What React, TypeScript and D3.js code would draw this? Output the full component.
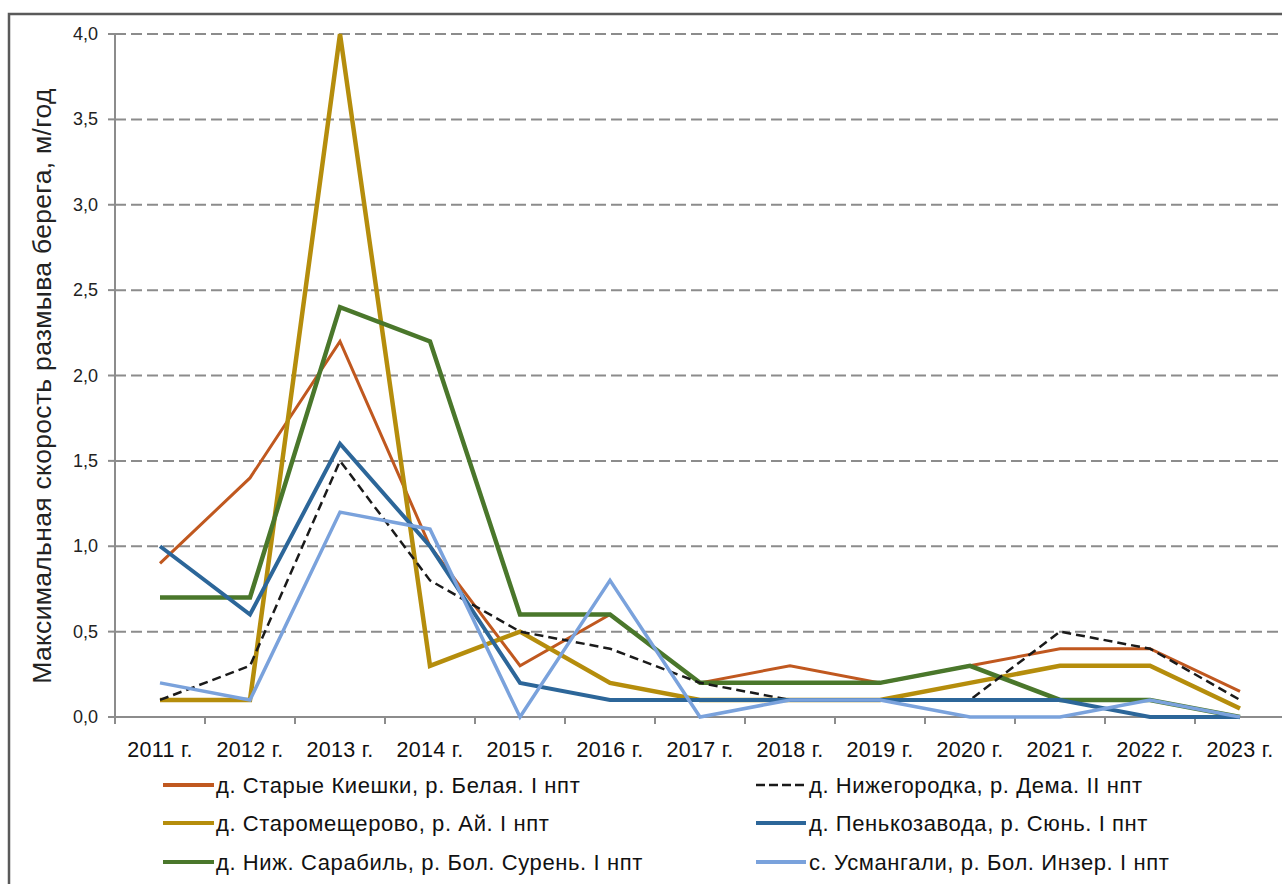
import React from "react";
import * as d3 from "d3";

const years = ["2011 г.", "2012 г.", "2013 г.", "2014 г.", "2015 г.", "2016 г.", "2017 г.", "2018 г.", "2019 г.", "2020 г.", "2021 г.", "2022 г.", "2023 г."];
const yTicks = [0, 0.5, 1, 1.5, 2, 2.5, 3, 3.5, 4];

const kieshki = [0.9, 1.4, 2.2, 1.0, 0.3, 0.6, 0.2, 0.3, 0.2, 0.3, 0.4, 0.4, 0.15];
const nizhegorodka = [0.1, 0.3, 1.5, 0.8, 0.5, 0.4, 0.2, 0.1, 0.1, 0.1, 0.5, 0.4, 0.1];
const staromeshcherovo = [0.1, 0.1, 4.0, 0.3, 0.5, 0.2, 0.1, 0.1, 0.1, 0.2, 0.3, 0.3, 0.05];
const penkozavoda = [1.0, 0.6, 1.6, 1.0, 0.2, 0.1, 0.1, 0.1, 0.1, 0.1, 0.1, 0.0, 0.0];
const sarabil = [0.7, 0.7, 2.4, 2.2, 0.6, 0.6, 0.2, 0.2, 0.2, 0.3, 0.1, 0.1, 0.0];
const usmangali = [0.2, 0.1, 1.2, 1.1, 0.0, 0.8, 0.0, 0.1, 0.1, 0.0, 0.0, 0.1, 0.0];

const labels = [
  "д. Старые Киешки, р. Белая. I нпт",
  "д. Нижегородка, р. Дема. II нпт",
  "д. Старомещерово, р. Ай. I нпт",
  "д. Пенькозавода, р. Сюнь. I пнт",
  "д. Ниж. Сарабиль, р. Бол. Сурень. I нпт",
  "с. Усмангали, р. Бол. Инзер. I нпт",
];

type S = { name: string; values: number[]; color: string; width: number; dash?: string };

const series: S[] = [
  { name: labels[0], values: kieshki, color: "#C0581F", width: 3 },
  { name: labels[1], values: nizhegorodka, color: "#1a1a1a", width: 2.5, dash: "9,5" },
  { name: labels[2], values: staromeshcherovo, color: "#B58D0C", width: 4.5 },
  { name: labels[3], values: penkozavoda, color: "#2C6699", width: 4 },
  { name: labels[4], values: sarabil, color: "#4A772B", width: 4.5 },
  { name: labels[5], values: usmangali, color: "#7AA2DC", width: 3.5 },
];

const drawOrder = [0, 2, 4, 1, 3, 5];

const W = 1282, H = 884;
const left = 115, top = 34, bottom = 717;
const step = 90;
const right = left + step * years.length;

const font = "'Liberation Sans', Arial, sans-serif";

export default function App() {
  const x = d3.scaleBand<string>().domain(years).range([left, right]);
  const y = d3.scaleLinear().domain([0, 4]).range([bottom, top]);
  const line = d3
    .line<number>()
    .x((_, i) => (x(years[i]) as number) + x.bandwidth() / 2)
    .y((v) => y(v));

  const legendRows = [785, 823, 862];
  const legendLine = [[163, 214], [756, 806]];
  const legendText = [216, 809];

  return (
    <div style={{ position: "absolute", left: 0, top: 0 }}>
      <svg width={W} height={H} style={{ display: "block", background: "#fff" }}>
        <rect x={9} y={14} width={W + 20} height={H + 20} fill="#fff" stroke="#5a5a5a" strokeWidth={2.5} />
        {yTicks.slice(1).map((t) => (
          <line key={"g" + t} x1={left} x2={W} y1={y(t)} y2={y(t)} stroke="#8c8c8c" strokeWidth={2} strokeDasharray="11,5" />
        ))}
        <line x1={left} x2={left} y1={top} y2={bottom} stroke="#8c8c8c" strokeWidth={2} />
        <line x1={left} x2={W} y1={bottom} y2={bottom} stroke="#8c8c8c" strokeWidth={2} />
        {yTicks.map((t) => (
          <g key={"yt" + t}>
            <line x1={left - 7} x2={left} y1={y(t)} y2={y(t)} stroke="#8c8c8c" strokeWidth={2} />
            <text x={98} y={y(t) + 6} textAnchor="end" fontFamily={font} fontSize={18} fill="#222">
              {d3.format(".1f")(t).replace(".", ",")}
            </text>
          </g>
        ))}
        {d3.range(years.length + 1).map((i) => (
          <line key={"xt" + i} x1={left + i * step} x2={left + i * step} y1={bottom} y2={bottom + 7} stroke="#8c8c8c" strokeWidth={2} />
        ))}
        {years.map((yr) => (
          <text key={yr} x={(x(yr) as number) + x.bandwidth() / 2} y={757} textAnchor="middle" fontFamily={font} fontSize={21.5} letterSpacing={0.3} fill="#111">
            {yr}
          </text>
        ))}
        <text
          transform={`translate(51,386) rotate(-90)`}
          textAnchor="middle"
          fontFamily={font}
          fontSize={26.5}
          letterSpacing={0.3}
          fill="#222"
        >
          Максимальная скорость размыва берега, м/год
        </text>
        {drawOrder.map((si) => {
          const s = series[si];
          return (
            <path
              key={s.name}
              d={line(s.values) || ""}
              fill="none"
              stroke={s.color}
              strokeWidth={s.width}
              strokeDasharray={s.dash}
              strokeLinejoin="miter"
            />
          );
        })}
        {series.map((s, i) => {
          const c = i % 2;
          const row = legendRows[Math.floor(i / 2)];
          return (
            <g key={"lg" + i}>
              <line x1={legendLine[c][0]} x2={legendLine[c][1]} y1={row} y2={row} stroke={s.color} strokeWidth={s.dash ? 2.5 : 4} strokeDasharray={s.dash ? "9,4" : undefined} />
              <text x={legendText[c]} y={row + 8} fontFamily={font} fontSize={22} letterSpacing={0.6} fill="#111">
                {s.name}
              </text>
            </g>
          );
        })}
      </svg>
    </div>
  );
}
